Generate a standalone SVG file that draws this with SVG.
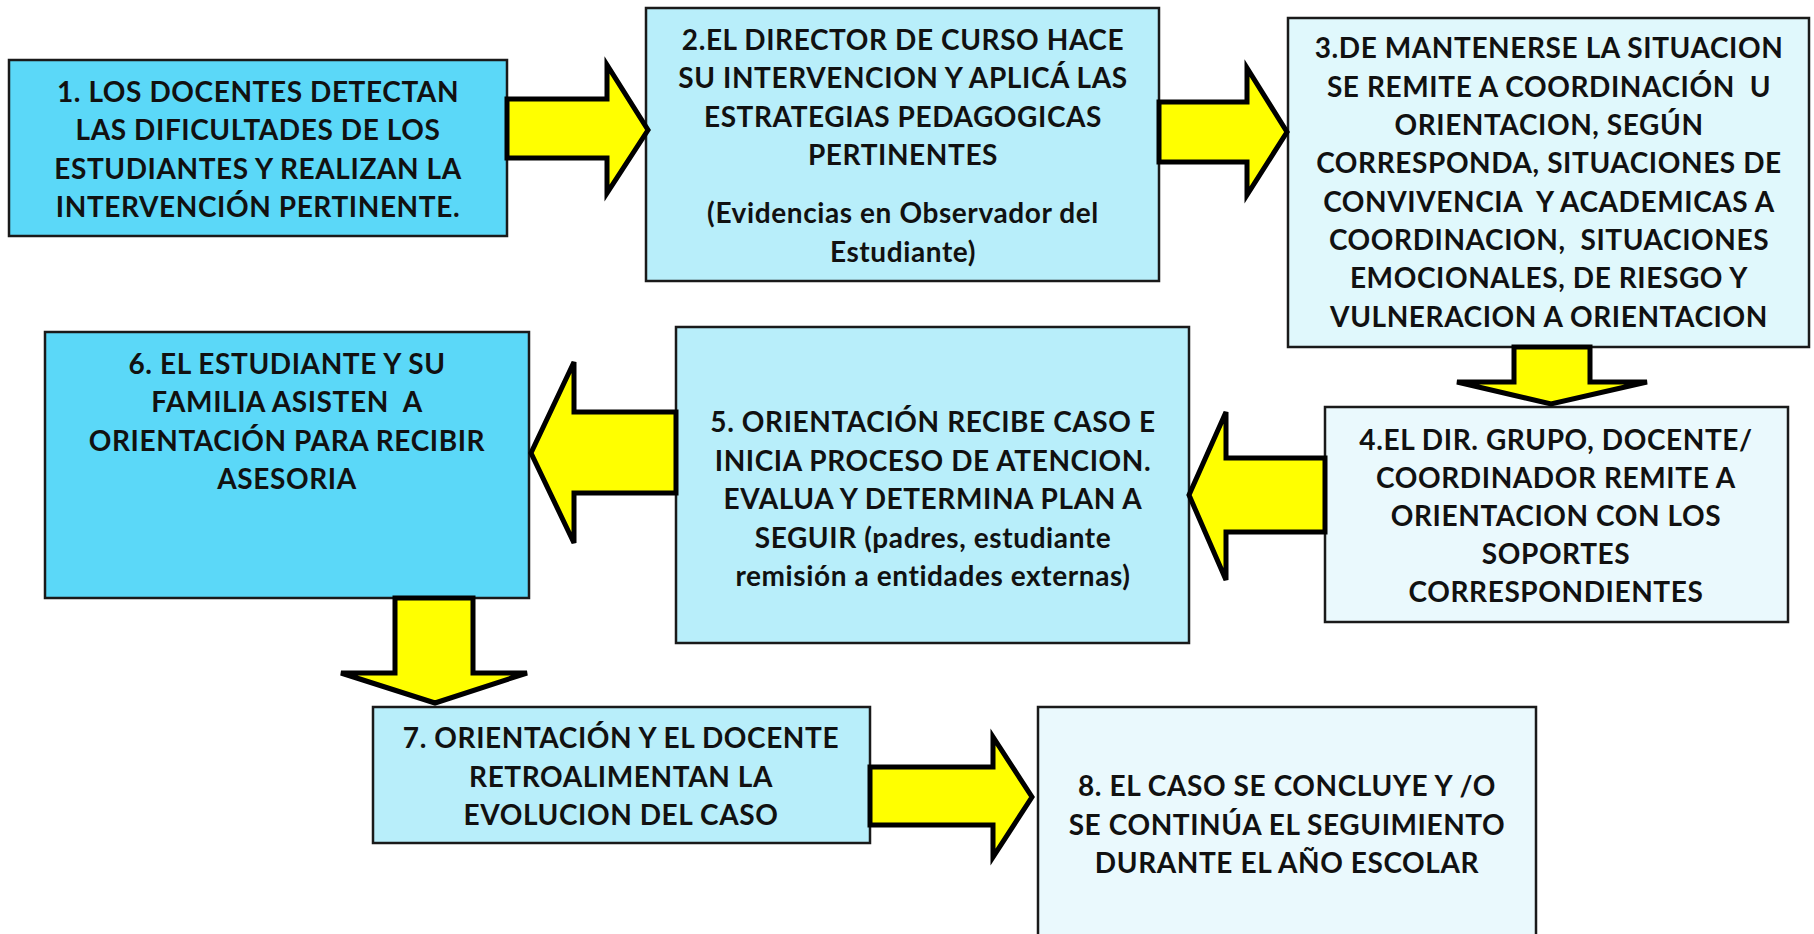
<svg xmlns="http://www.w3.org/2000/svg" width="1814" height="934" viewBox="0 0 1814 934" xml:space="preserve">
<style>
.box{stroke:#1a1a1a;stroke-width:2.5}
.c1{fill:#5BD8F8}
.c2{fill:#B8EEFA}
.c3{fill:#E0F8FC}
.c4{fill:#EAF9FD}
.arr{fill:#FFFF00;stroke:#000;stroke-width:5;stroke-linejoin:miter}
text{font-family:"Lato","Open Sans","Liberation Sans",sans-serif;font-weight:bold;font-size:28px;letter-spacing:0.6px;fill:#111;text-anchor:middle;white-space:pre}
</style>
<rect width="1814" height="934" fill="#fff"/>
<g id="node1">
<rect class="box c1" x="9" y="60" width="498" height="176"/>
<text x="258" y="102">1. LOS DOCENTES DETECTAN</text>
<text x="258" y="140">LAS DIFICULTADES DE LOS</text>
<text x="258" y="179">ESTUDIANTES Y REALIZAN LA</text>
<text x="258" y="217">INTERVENCIÓN PERTINENTE.</text>
</g>
<g id="node2">
<rect class="box c2" x="646" y="8" width="513" height="273"/>
<text x="903" y="50">2.EL DIRECTOR DE CURSO HACE</text>
<text x="903" y="88">SU INTERVENCION Y APLICÁ LAS</text>
<text x="903" y="127">ESTRATEGIAS PEDAGOGICAS</text>
<text x="903" y="165">PERTINENTES</text>
<text x="903" y="223">(Evidencias en Observador del</text>
<text x="903" y="262">Estudiante)</text>
</g>
<g id="node3">
<rect class="box c3" x="1288" y="18" width="521" height="329"/>
<text x="1549" y="58">3.DE MANTENERSE LA SITUACION</text>
<text x="1549" y="97">SE REMITE A COORDINACIÓN  U</text>
<text x="1549" y="135">ORIENTACION, SEGÚN</text>
<text x="1549" y="173">CORRESPONDA, SITUACIONES DE</text>
<text x="1549" y="212">CONVIVENCIA  Y ACADEMICAS A</text>
<text x="1549" y="250">COORDINACION,  SITUACIONES</text>
<text x="1549" y="288">EMOCIONALES, DE RIESGO Y</text>
<text x="1549" y="327">VULNERACION A ORIENTACION</text>
</g>
<g id="node4">
<rect class="box c4" x="1325" y="407" width="463" height="215"/>
<text x="1556" y="450">4.EL DIR. GRUPO, DOCENTE/</text>
<text x="1556" y="488">COORDINADOR REMITE A</text>
<text x="1556" y="526">ORIENTACION CON LOS</text>
<text x="1556" y="564">SOPORTES</text>
<text x="1556" y="602">CORRESPONDIENTES</text>
</g>
<g id="node5">
<rect class="box c2" x="676" y="327" width="513" height="316"/>
<text x="933" y="432">5. ORIENTACIÓN RECIBE CASO E</text>
<text x="933" y="471">INICIA PROCESO DE ATENCION.</text>
<text x="933" y="509">EVALUA Y DETERMINA PLAN A</text>
<text x="933" y="548">SEGUIR (padres, estudiante</text>
<text x="933" y="586">remisión a entidades externas)</text>
</g>
<g id="node6">
<rect class="box c1" x="45" y="332" width="484" height="266"/>
<text x="287" y="374">6. EL ESTUDIANTE Y SU</text>
<text x="287" y="412">FAMILIA ASISTEN  A</text>
<text x="287" y="451">ORIENTACIÓN PARA RECIBIR</text>
<text x="287" y="489">ASESORIA</text>
</g>
<g id="node7">
<rect class="box c2" x="373" y="707" width="497" height="136"/>
<text x="621" y="748">7. ORIENTACIÓN Y EL DOCENTE</text>
<text x="621" y="787">RETROALIMENTAN LA</text>
<text x="621" y="825">EVOLUCION DEL CASO</text>
</g>
<g id="node8">
<rect class="box c4" x="1038" y="707" width="498" height="240"/>
<text x="1287" y="796">8. EL CASO SE CONCLUYE Y /O</text>
<text x="1287" y="835">SE CONTINÚA EL SEGUIMIENTO</text>
<text x="1287" y="873">DURANTE EL AÑO ESCOLAR</text>
</g>
<g id="connectors">
<polygon class="arr" points="507,99 607,99 607,65 648,130 607,193 607,158 507,158"/>
<polygon class="arr" points="1159,102 1247,102 1247,68 1287,132 1247,195 1247,162 1159,162"/>
<polygon class="arr" points="1514,347 1590,347 1590,382 1647,382 1551,404 1457,382 1514,382"/>
<polygon class="arr" points="1325,458 1226,458 1226,412 1189,495 1226,580 1226,532 1325,532"/>
<polygon class="arr" points="676,412 574,412 574,362 531,453 574,543 574,493 676,493"/>
<polygon class="arr" points="395,598 473,598 473,673 527,673 435,703 341,673 395,673"/>
<polygon class="arr" points="870,767 993,767 993,737 1032,797 993,857 993,825 870,825"/>
</g>
</svg>
